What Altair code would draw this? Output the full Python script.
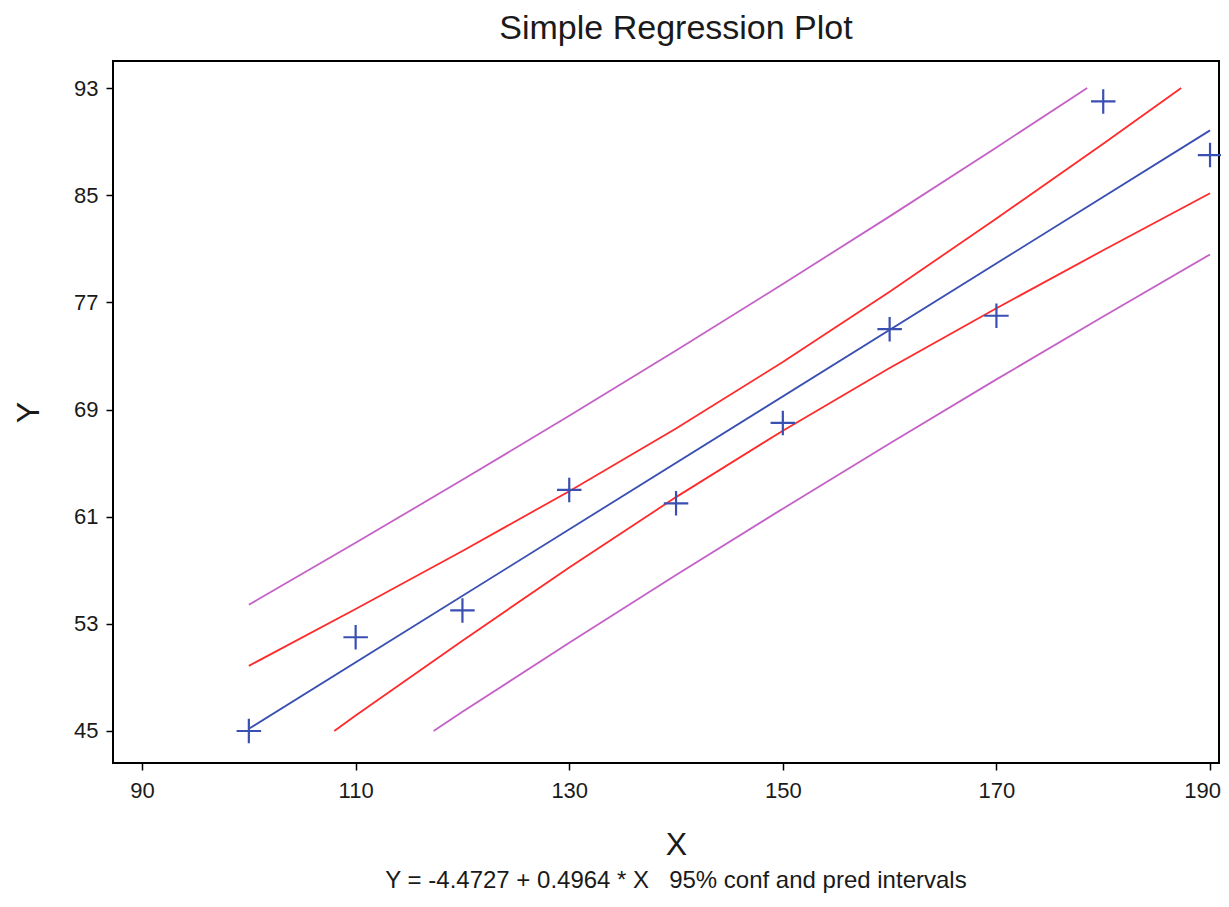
import altair as alt
import pandas as pd

# Observed data
x_obs = [100, 110, 120, 130, 140, 150, 160, 170, 180, 190]
y_obs = [45, 52, 54, 63, 62, 68, 75, 76, 92, 88]

# Fitted regression line (Y = -4.4727 + 0.4964 * X)
fit_x = [100, 190]
fit_y = [45.16, 89.84]

# 95% confidence limits
conf_upper_x = [100, 110, 120, 130, 140, 150, 160, 170, 180, 187.3]
conf_upper_y = [49.86, 54.11, 58.44, 62.90, 67.58, 72.55, 77.79, 83.26, 88.85, 93.0]
conf_lower_x = [108.0, 110, 120, 130, 140, 150, 160, 170, 180, 190]
conf_lower_y = [45.0, 46.15, 51.74, 57.21, 62.46, 67.42, 72.10, 76.56, 80.89, 85.15]

# 95% prediction limits
pred_upper_x = [100, 110, 120, 130, 140, 150, 160, 170, 178.5]
pred_upper_y = [54.42, 59.05, 63.75, 68.53, 73.40, 78.37, 83.42, 88.57, 93.0]
pred_lower_x = [117.3, 120, 130, 140, 150, 160, 170, 180, 190]
pred_lower_y = [45.0, 46.43, 51.58, 56.64, 61.60, 66.47, 71.25, 75.95, 80.58]

x_ticks = [90, 110, 130, 150, 170, 190]
y_ticks = [45, 53, 61, 69, 77, 85, 93]

title_text = "Simple Regression Plot"
footnote = "Y = -4.4727 + 0.4964 * X\u00a0\u00a0\u00a095% conf and pred intervals"

FONT = "Liberation Sans"
BLUE = "#3a4fb2"
RED = "#ff2b2b"
MAG = "#c462c8"
TXT = "#1a1a1a"

rows = []
for name, xs, ys in [
    ("fit", fit_x, fit_y),
    ("conf_upper", conf_upper_x, conf_upper_y),
    ("conf_lower", conf_lower_x, conf_lower_y),
    ("pred_upper", pred_upper_x, pred_upper_y),
    ("pred_lower", pred_lower_x, pred_lower_y),
]:
    for i, (xv, yv) in enumerate(zip(xs, ys)):
        rows.append({"series": name, "x": xv, "y": yv, "i": i})
lines_df = pd.DataFrame(rows)
pts_df = pd.DataFrame({"x": x_obs, "y": y_obs})

W, H = 1106, 702
PAD_L, PAD_T, PAD_R, PAD_B = 105, 53, 2, 131

xscale = alt.Scale(domain=[87.28, 190.84], nice=False, zero=False)
yscale = alt.Scale(domain=[42.61, 95.02], nice=False, zero=False)

xaxis = alt.Axis(
    values=x_ticks, grid=False, domain=False, tickColor="black", tickSize=7, tickWidth=1.5,
    labelFont=FONT, labelFontSize=22, labelColor=TXT, labelPadding=10,
    labelOffset={"condition": {"test": "datum.value === 190", "value": -8}, "value": 0},
    title="X", titleFont=FONT, titleFontSize=32, titleFontWeight="normal", titleColor=TXT,
    titlePadding=28, titleX=W / 2 + 10,
)
yaxis = alt.Axis(
    values=y_ticks, grid=False, domain=False, tickColor="black", tickSize=7, tickWidth=1.5,
    labelFont=FONT, labelFontSize=22, labelColor=TXT, labelPadding=8,
    title="Y", titleFont=FONT, titleFontSize=32, titleFontWeight="normal", titleColor=TXT,
    titlePadding=28,
)

lines = alt.Chart(lines_df).mark_line(strokeWidth=1.8).encode(
    x=alt.X("x:Q", scale=xscale, axis=xaxis),
    y=alt.Y("y:Q", scale=yscale, axis=yaxis),
    color=alt.Color(
        "series:N",
        scale=alt.Scale(
            domain=["fit", "conf_upper", "conf_lower", "pred_upper", "pred_lower"],
            range=[BLUE, RED, RED, MAG, MAG],
        ),
        legend=None,
    ),
    order="i:Q",
)

points = alt.Chart(pts_df).mark_point(
    shape="M-1,0L1,0M0,-1L0,1", size=600, strokeWidth=2.2, color=BLUE, filled=False, opacity=1
).encode(
    x=alt.X("x:Q", scale=xscale),
    y=alt.Y("y:Q", scale=yscale),
)

foot = alt.Chart(pd.DataFrame({"t": [footnote]})).mark_text(
    font=FONT, fontSize=24, color=TXT, align="center", baseline="alphabetic"
).encode(
    x=alt.value(W / 2 + 10),
    y=alt.value(H + 125),
    text="t:N",
)

chart = alt.layer(lines, points, foot).properties(
    width=W,
    height=H,
    title=alt.TitleParams(
        title_text, font=FONT, fontSize=34, fontWeight="normal", color=TXT,
        anchor="middle", offset=15, dx=10,
    ),
    autosize=alt.AutoSizeParams(type="none"),
    padding={"left": PAD_L, "top": PAD_T, "right": PAD_R, "bottom": PAD_B},
).configure_view(stroke="black", strokeWidth=2)

chart.save("out.html", embed_options={"renderer": "svg", "actions": False})
